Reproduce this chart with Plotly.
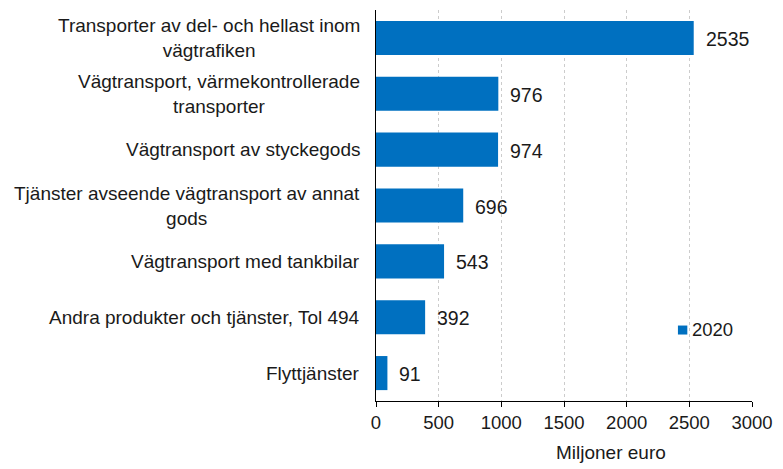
import plotly.graph_objects as go

categories = [
    "Transporter av del- och hellast inom<br>vägtrafiken",
    "Vägtransport, värmekontrollerade<br>transporter",
    "Vägtransport av styckegods",
    "Tjänster avseende vägtransport av annat<br>gods",
    "Vägtransport med tankbilar",
    "Andra produkter och tjänster, Tol 494",
    "Flyttjänster",
]
values_2020 = [2535, 976, 974, 696, 543, 392, 91]
series_name = "2020"
x_ticks = [0, 500, 1000, 1500, 2000, 2500, 3000]
x_title = "Miljoner euro"

BLUE = "#0070C0"
FONT = "Liberation Sans, Arial, sans-serif"
TXT = "#1a1a1a"

fig = go.Figure()
fig.add_trace(go.Bar(
    x=values_2020, y=categories, orientation="h",
    marker=dict(color=BLUE, line=dict(width=0)),
    name=series_name, showlegend=False,
))

annotations = []
for c, v in zip(categories, values_2020):
    annotations.append(dict(x=v, y=c, xref="x", yref="y", text=str(v),
                            xanchor="left", yanchor="middle", xshift=10, yshift=-1,
                            showarrow=False, font=dict(family=FONT, size=19.5, color=TXT)))
    annotations.append(dict(x=0, y=c, xref="paper", yref="y", text=c,
                            xanchor="right", yanchor="middle", xshift=-14, align="center",
                            showarrow=False, font=dict(family=FONT, size=19, color=TXT)))
annotations.append(dict(x=0.624, y=-0.131, xref="paper", yref="paper", text=x_title,
                        xanchor="center", yanchor="middle", showarrow=False,
                        font=dict(family=FONT, size=19, color=TXT)))
# legend entry (swatch + label)
annotations.append(dict(x=0.834, y=0.182, xref="paper", yref="paper", text=series_name,
                        xanchor="left", yanchor="middle", showarrow=False,
                        font=dict(family=FONT, size=18.5, color=TXT)))
shapes = [dict(type="rect", xref="paper", yref="paper", x0=0.803, x1=0.828,
               y0=0.170, y1=0.193, fillcolor=BLUE, line=dict(width=0))]

fig.update_layout(
    width=783, height=469,
    margin=dict(l=376, r=24, t=10, b=68),
    paper_bgcolor="white", plot_bgcolor="white",
    bargap=0.39,
    showlegend=False,
    font=dict(family=FONT, size=18.5, color=TXT),
    xaxis=dict(range=[0, 3000], tickvals=x_ticks, ticks="outside", ticklen=5,
               tickcolor="black", showline=True, linecolor="black", linewidth=1,
               showgrid=True, gridcolor="#CCCCCC", griddash="dot", gridwidth=1,
               zeroline=False, tickfont=dict(family=FONT, size=18.5, color=TXT)),
    yaxis=dict(categoryorder="array", categoryarray=categories, autorange="reversed",
               showticklabels=False, showline=True, linecolor="black", linewidth=1,
               ticks="", showgrid=False, zeroline=False),
    annotations=annotations,
    shapes=shapes,
)

fig.write_html("out.html", config={"displayModeBar": False},
               post_script="document.body.style.margin='0';document.body.style.overflow='hidden';")
